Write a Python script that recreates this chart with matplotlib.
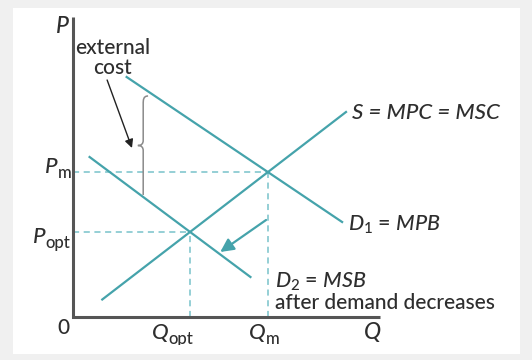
import matplotlib

matplotlib.use("Agg")
import matplotlib.pyplot as plt
from matplotlib.patches import Rectangle, PathPatch, FancyArrowPatch
from matplotlib.path import Path

# curve end points (Q, P)
supply_q = [3.0, 28.0]
supply_p = [1.75, 20.5]
d1_q = [5.5, 27.6]
d1_p = [24.0, 9.5]
d2_q = [1.7, 18.2]
d2_p = [16.0, 4.0]

q_opt, q_m = 12.0, 20.0
p_opt, p_m = 8.5, 14.5

# external cost brace and demand shift arrow
brace_q = 7.2
brace_top, brace_bottom = 22.1, 12.2
shift_start = (19.8, 9.7)
shift_end = (15.1, 6.5)
cost_arrow_start = (3.5, 23.7)
cost_arrow_end = (6.05, 16.9)

LINE = "#45a3ab"
DASH = "#78c2ca"
AXIS = "#555555"
TEXT = "#2e2e2e"
FONT = "Lato"


def sub_label(ax, x, y, main, sub, dy=0.5, size=16, sub_size=12):
    # italic letter with upright subscript, x is where the letter ends
    ax.text(x, y, main, fontsize=size, fontstyle="italic", ha="right", va="baseline",
            color=TEXT, clip_on=True)
    ax.text(x, y - dy, sub, fontsize=sub_size, ha="left", va="baseline",
            color=TEXT, clip_on=True)


def main() -> None:
    plt.rcParams.update(
        {
            "font.family": FONT,
            "font.weight": 500,
            "mathtext.fontset": "custom",
            "mathtext.rm": FONT,
            "mathtext.it": f"{FONT}:italic",
            "mathtext.bf": f"{FONT}:bold",
        }
    )

    W, H = 532, 360
    fig = plt.figure(figsize=(W / 100, H / 100), dpi=100, facecolor="#f0f0f0")
    fig.patches.append(
        Rectangle((13 / W, 6 / H), 507 / W, 346 / H, transform=fig.transFigure,
                  facecolor="white", edgecolor="none", zorder=-5)
    )
    ax = fig.add_axes([13 / W, 15 / H, 507 / W, 337 / H])
    ax.set_xlim(-6.154, 45.846)
    ax.set_ylim(-2.8, 30.9)
    ax.axis("off")

    # axes
    ax.plot([0, 0, 31.5], [30.0, 0, 0], color=AXIS, lw=2.2, solid_capstyle="butt",
            solid_joinstyle="miter", zorder=4)

    # guide lines
    dash = dict(color=DASH, lw=1.1, ls=(0, (4, 3)), zorder=1)
    ax.plot([0, q_m], [p_m, p_m], **dash)
    ax.plot([0, q_opt], [p_opt, p_opt], **dash)
    ax.plot([q_m, q_m], [0, p_m], **dash)
    ax.plot([q_opt, q_opt], [0, p_opt], **dash)

    # curves
    ax.plot(supply_q, supply_p, color=LINE, lw=1.6, zorder=3)
    ax.plot(d1_q, d1_p, color=LINE, lw=1.6, zorder=3)
    ax.plot(d2_q, d2_p, color=LINE, lw=1.6, zorder=3)

    ax.add_patch(FancyArrowPatch(shift_start, shift_end, arrowstyle="-|>,head_length=8,head_width=4",
                                 color=LINE, lw=1.6, shrinkA=0, shrinkB=0, zorder=3))

    # brace for external cost
    mid = (brace_top + brace_bottom) / 2
    b = brace_q
    verts = [
        (b + 0.5, brace_top), (b, brace_top), (b, brace_top - 0.4), (b, brace_top - 0.8),
        (b, mid + 0.5), (b, mid), (b - 0.55, mid),
        (b, mid), (b, mid - 0.5),
        (b, brace_bottom),
    ]
    codes = [Path.MOVETO, Path.CURVE4, Path.CURVE4, Path.CURVE4,
             Path.LINETO, Path.CURVE3, Path.CURVE3,
             Path.CURVE3, Path.CURVE3,
             Path.LINETO]
    ax.add_patch(PathPatch(Path(verts, codes), facecolor="none", edgecolor="#8a8a8a", lw=1.1, zorder=2))

    ax.add_patch(FancyArrowPatch(cost_arrow_start, cost_arrow_end,
                                 arrowstyle="-|>,head_length=5,head_width=2.5",
                                 color="#222222", lw=1.0, shrinkA=0, shrinkB=0, zorder=3))

    # labels
    tk = dict(color=TEXT, clip_on=True)
    ax.text(-0.4, 28.4, "P", fontsize=16.5, fontstyle="italic", ha="right", va="baseline", **tk)
    ax.text(4.1, 25.9, "external\ncost", fontsize=15, ha="center", va="center",
            linespacing=1.05, **tk)
    sub_label(ax, -1.6, 14.4, "P", "m")
    sub_label(ax, -2.8, 7.4, "P", "opt")
    ax.text(-1.0, -1.1, "0", fontsize=15, ha="center", va="center", **tk)
    sub_label(ax, 9.8, -2.2, "Q", "opt")
    sub_label(ax, 19.8, -2.2, "Q", "m")
    ax.text(30.7, -2.2, "Q", fontsize=16.5, fontstyle="italic", ha="center", va="baseline", **tk)

    ax.text(28.6, 20.4, "S = MPC = MSC", fontsize=16, fontstyle="italic",
            ha="left", va="center", **tk)
    ax.text(28.2, 9.2, "$D_1$ = $MPB$", fontsize=15.5, ha="left", va="center", **tk)
    ax.text(20.7, 3.5, "$D_2$ = $MSB$", fontsize=15.5, ha="left", va="center", **tk)
    ax.text(20.7, 1.4, "after demand decreases", fontsize=15, ha="left", va="center", **tk)

    fig.savefig("out.png", dpi=100, facecolor=fig.get_facecolor())


if __name__ == "__main__":
    main()
